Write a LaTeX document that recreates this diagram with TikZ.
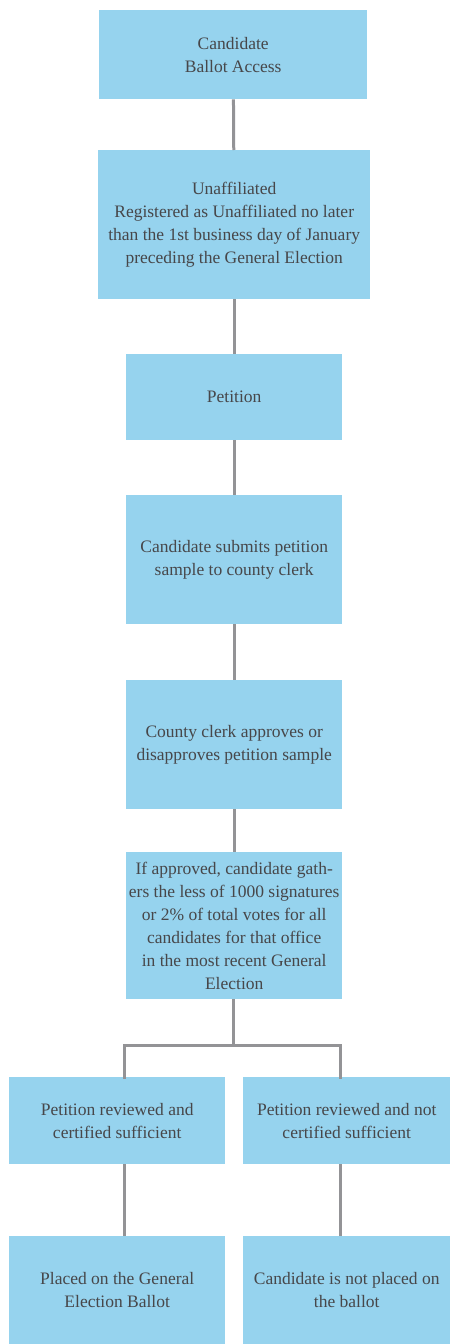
\documentclass[tikz,border=0pt]{standalone}
\usepackage{fontspec}
\setmainfont{Liberation Serif}
\usepackage{tikz}
\usetikzlibrary{calc,positioning}
\definecolor{boxblue}{HTML}{96D3EE}
\definecolor{linegray}{HTML}{939396}
\definecolor{textgray}{HTML}{47474A}
\tikzset{
  stepbox/.style={
      fill=boxblue,
      text=textgray,
      align=center,
      anchor=north west,
      inner sep=0pt,
      font=\fontsize{17.5}{23}\selectfont,
  },
  link/.style={
      draw=linegray,
      line width=3pt,
  },
}

\begin{document}
\begin{tikzpicture}[x=1pt,y=-1pt]
  \useasboundingbox (0,0) rectangle (450,1344);
  \node[stepbox,minimum width=268pt,minimum height=89pt](cand) at (99,10)
  {Candidate\\Ballot Access};
  \node[stepbox,minimum width=272pt,minimum height=149pt](unaff) at (98,150)
  {Unaffiliated\\Registered as Unaffiliated no later\\than the 1st business day of January\\preceding the General Election};
  \node[stepbox,minimum width=216pt,minimum height=86pt](petition) at (126,354)
  {Petition};
  \node[stepbox,minimum width=216pt,minimum height=129pt](submit) at (126,495)
  {Candidate submits petition\\sample to county clerk};
  \node[stepbox,minimum width=216pt,minimum height=129pt](clerk) at (126,680)
  {County clerk approves or\\disapproves petition sample};
  \node[stepbox,minimum width=216pt,minimum height=147pt](gather) at (126,852)
  {If approved, candidate gath-\\ers the less of 1000 signatures\\or 2\% of total votes for all\\candidates for that office\\in the most recent General\\Election};
  \node[stepbox,minimum width=216pt,minimum height=87pt](ok) at (9,1077)
  {Petition reviewed and\\certified sufficient};
  \node[stepbox,minimum width=207pt,minimum height=87pt](notok) at (243,1077)
  {Petition reviewed and not\\certified sufficient};
  \node[stepbox,minimum width=216pt,minimum height=108pt](placed) at (9,1236)
  {Placed on the General\\Election Ballot};
  \node[stepbox,minimum width=207pt,minimum height=108pt](notplaced) at (243,1236)
  {Candidate is not placed on\\the ballot};
  % split below the last common step
  \coordinate (bl) at (124,1045);
  \coordinate (br) at (340,1045);
  \draw[link] (cand) -- (unaff);
  \draw[link] (unaff) -- (petition);
  \draw[link] (petition) -- (submit);
  \draw[link] (submit) -- (clerk);
  \draw[link] (clerk) -- (gather);
  \draw[link] (gather.south -| 233,0) -- (233,1045);
  \draw[link,line cap=rect] (bl |- ok.north) -- (bl) -- (br) -- (br |- notok.north);
  \draw[link] (bl |- ok.south) -- (bl |- placed.north);
  \draw[link] (br |- notok.south) -- (br |- notplaced.north);
\end{tikzpicture}
\end{document}
